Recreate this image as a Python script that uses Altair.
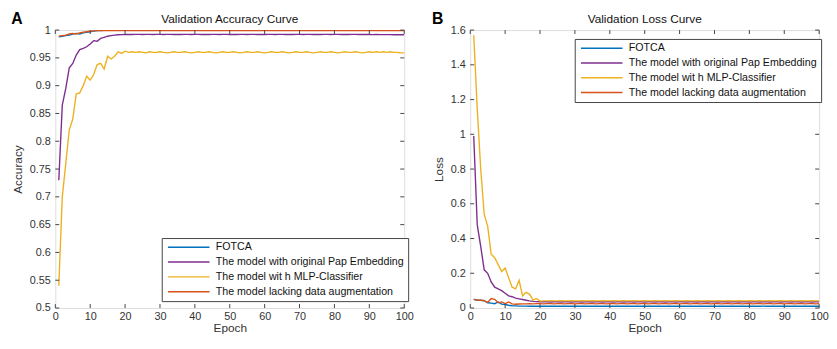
import altair as alt
import pandas as pd

epochs = list(range(1, 101))
series_names = ["FOTCA", "The model with original Pap Embedding",
                "The model wit h MLP-Classifier", "The model lacking data augmentation"]
colors = ["#0072BD", "#7E2F8E", "#EDB120", "#D95319"]

acc_fotca = [0.988, 0.989, 0.990, 0.991, 0.993, 0.994, 0.993, 0.995, 0.996, 0.997,
             0.998, 0.999, 0.999, 0.9995, 0.9995, 0.9996, 0.9996, 0.9996, 0.9997, 0.9997,
             0.9996, 0.9997, 0.9997, 0.9996, 0.9997, 0.9997, 0.9996, 0.9997, 0.9997, 0.9997,
             0.9996, 0.9997, 0.9997, 0.9996, 0.9997, 0.9997, 0.9997, 0.9996, 0.9997, 0.9997,
             0.9996, 0.9997, 0.9997, 0.9997, 0.9996, 0.9997, 0.9997, 0.9996, 0.9997, 0.9997,
             0.9996, 0.9997, 0.9997, 0.9997, 0.9996, 0.9997, 0.9997, 0.9996, 0.9997, 0.9997,
             0.9996, 0.9997, 0.9997, 0.9997, 0.9996, 0.9997, 0.9997, 0.9996, 0.9997, 0.9997,
             0.9996, 0.9997, 0.9997, 0.9997, 0.9996, 0.9997, 0.9997, 0.9996, 0.9997, 0.9997,
             0.9996, 0.9997, 0.9997, 0.9997, 0.9996, 0.9997, 0.9997, 0.9996, 0.9997, 0.9997,
             0.9996, 0.9997, 0.9997, 0.9997, 0.9996, 0.9997, 0.9997, 0.9996, 0.9997, 0.9997]
acc_pap = [0.730, 0.865, 0.895, 0.932, 0.940, 0.955, 0.965, 0.967, 0.970, 0.975,
           0.981, 0.980, 0.985, 0.987, 0.989, 0.990, 0.991, 0.9915, 0.9918, 0.9920,
           0.9922, 0.9921, 0.9923, 0.9922, 0.9921, 0.9923, 0.9922, 0.9920, 0.9922, 0.9923,
           0.9921, 0.9922, 0.9923, 0.9921, 0.9922, 0.9920, 0.9922, 0.9923, 0.9921, 0.9922,
           0.9923, 0.9921, 0.9922, 0.9920, 0.9922, 0.9923, 0.9921, 0.9922, 0.9923, 0.9921,
           0.9922, 0.9920, 0.9922, 0.9923, 0.9921, 0.9922, 0.9923, 0.9921, 0.9922, 0.9920,
           0.9922, 0.9923, 0.9921, 0.9922, 0.9923, 0.9921, 0.9922, 0.9920, 0.9922, 0.9923,
           0.9921, 0.9922, 0.9923, 0.9921, 0.9922, 0.9920, 0.9922, 0.9923, 0.9921, 0.9922,
           0.9923, 0.9921, 0.9922, 0.9920, 0.9922, 0.9923, 0.9921, 0.9922, 0.9921, 0.9920,
           0.9919, 0.9920, 0.9919, 0.9918, 0.9919, 0.9918, 0.9917, 0.9918, 0.9917, 0.9917]
acc_mlp = [0.540, 0.700, 0.760, 0.820, 0.840, 0.885, 0.887, 0.900, 0.917, 0.910,
           0.920, 0.938, 0.940, 0.930, 0.953, 0.948, 0.953, 0.961, 0.958, 0.962,
           0.960, 0.961, 0.960, 0.961, 0.960, 0.959, 0.961, 0.960, 0.960, 0.961,
           0.960, 0.959, 0.960, 0.961, 0.960, 0.960, 0.961, 0.960, 0.959, 0.960,
           0.961, 0.960, 0.960, 0.961, 0.960, 0.959, 0.960, 0.961, 0.960, 0.960,
           0.961, 0.960, 0.959, 0.960, 0.961, 0.960, 0.960, 0.961, 0.960, 0.959,
           0.960, 0.961, 0.960, 0.960, 0.961, 0.960, 0.959, 0.960, 0.961, 0.960,
           0.960, 0.961, 0.960, 0.959, 0.960, 0.961, 0.960, 0.960, 0.961, 0.960,
           0.959, 0.960, 0.961, 0.960, 0.960, 0.961, 0.960, 0.959, 0.960, 0.961,
           0.960, 0.961, 0.960, 0.961, 0.960, 0.961, 0.960, 0.960, 0.959, 0.959]
acc_lack = [0.989, 0.990, 0.991, 0.993, 0.994, 0.993, 0.995, 0.996, 0.997, 0.998,
            0.9985, 0.999, 0.999, 0.999, 0.999, 0.999, 0.999, 0.999, 0.999, 0.999,
            0.999, 0.999, 0.999, 0.999, 0.999, 0.999, 0.999, 0.999, 0.999, 0.999,
            0.999, 0.999, 0.999, 0.999, 0.999, 0.999, 0.999, 0.999, 0.999, 0.999,
            0.999, 0.999, 0.999, 0.999, 0.999, 0.999, 0.999, 0.999, 0.999, 0.999,
            0.999, 0.999, 0.999, 0.999, 0.999, 0.999, 0.999, 0.999, 0.999, 0.999,
            0.999, 0.999, 0.999, 0.999, 0.999, 0.999, 0.999, 0.999, 0.999, 0.999,
            0.999, 0.999, 0.999, 0.999, 0.999, 0.999, 0.999, 0.999, 0.999, 0.999,
            0.999, 0.999, 0.999, 0.999, 0.999, 0.999, 0.999, 0.999, 0.999, 0.999,
            0.999, 0.999, 0.999, 0.999, 0.999, 0.999, 0.999, 0.999, 0.999, 0.999]

loss_fotca = [0.050, 0.045, 0.045, 0.042, 0.030, 0.028, 0.025, 0.035, 0.022, 0.020,
              0.016, 0.013, 0.012, 0.011, 0.011, 0.011, 0.010, 0.011, 0.010, 0.010,
              0.011, 0.010, 0.010, 0.011, 0.010, 0.010, 0.011, 0.010, 0.010, 0.011,
              0.010, 0.010, 0.011, 0.010, 0.010, 0.011, 0.010, 0.010, 0.011, 0.010,
              0.010, 0.011, 0.010, 0.010, 0.011, 0.010, 0.010, 0.011, 0.010, 0.010,
              0.011, 0.010, 0.010, 0.011, 0.010, 0.010, 0.011, 0.010, 0.010, 0.011,
              0.010, 0.010, 0.011, 0.010, 0.010, 0.011, 0.010, 0.010, 0.011, 0.010,
              0.010, 0.011, 0.010, 0.010, 0.011, 0.010, 0.010, 0.011, 0.010, 0.010,
              0.011, 0.010, 0.010, 0.011, 0.010, 0.010, 0.011, 0.010, 0.010, 0.011,
              0.010, 0.010, 0.011, 0.010, 0.010, 0.011, 0.010, 0.010, 0.011, 0.010]
loss_pap = [0.990, 0.480, 0.355, 0.220, 0.200, 0.150, 0.120, 0.110, 0.100, 0.085,
            0.070, 0.065, 0.057, 0.053, 0.049, 0.045, 0.041, 0.038, 0.037, 0.036,
            0.036, 0.036, 0.035, 0.036, 0.036, 0.035, 0.036, 0.036, 0.035, 0.036,
            0.036, 0.035, 0.036, 0.036, 0.035, 0.036, 0.036, 0.035, 0.036, 0.036,
            0.035, 0.036, 0.036, 0.035, 0.036, 0.036, 0.035, 0.036, 0.036, 0.035,
            0.036, 0.036, 0.035, 0.036, 0.036, 0.035, 0.036, 0.036, 0.035, 0.036,
            0.036, 0.035, 0.036, 0.036, 0.035, 0.036, 0.036, 0.035, 0.036, 0.036,
            0.035, 0.036, 0.036, 0.035, 0.036, 0.036, 0.035, 0.036, 0.036, 0.035,
            0.036, 0.036, 0.035, 0.036, 0.036, 0.035, 0.036, 0.036, 0.035, 0.036,
            0.036, 0.035, 0.036, 0.036, 0.035, 0.036, 0.036, 0.035, 0.036, 0.036]
loss_mlp = [1.570, 1.150, 0.800, 0.540, 0.470, 0.310, 0.290, 0.250, 0.210, 0.230,
            0.175, 0.120, 0.110, 0.160, 0.070, 0.090, 0.080, 0.045, 0.055, 0.040,
            0.041, 0.041, 0.042, 0.041, 0.041, 0.042, 0.041, 0.041, 0.042, 0.041,
            0.041, 0.042, 0.041, 0.041, 0.042, 0.041, 0.041, 0.042, 0.041, 0.041,
            0.042, 0.041, 0.041, 0.042, 0.041, 0.041, 0.042, 0.041, 0.041, 0.042,
            0.041, 0.041, 0.042, 0.041, 0.041, 0.042, 0.041, 0.041, 0.042, 0.041,
            0.041, 0.042, 0.041, 0.041, 0.042, 0.041, 0.041, 0.042, 0.041, 0.041,
            0.042, 0.041, 0.041, 0.042, 0.041, 0.041, 0.042, 0.041, 0.041, 0.042,
            0.041, 0.041, 0.042, 0.041, 0.041, 0.042, 0.041, 0.041, 0.042, 0.041,
            0.041, 0.042, 0.041, 0.041, 0.042, 0.041, 0.041, 0.042, 0.041, 0.041]
loss_lack = [0.050, 0.046, 0.045, 0.043, 0.032, 0.055, 0.050, 0.030, 0.035, 0.025,
             0.035, 0.024, 0.022, 0.023, 0.024, 0.024, 0.025, 0.024, 0.025, 0.025,
             0.024, 0.025, 0.025, 0.024, 0.025, 0.025, 0.024, 0.025, 0.025, 0.024,
             0.025, 0.025, 0.024, 0.025, 0.025, 0.024, 0.025, 0.025, 0.024, 0.025,
             0.025, 0.024, 0.025, 0.025, 0.024, 0.025, 0.025, 0.024, 0.025, 0.025,
             0.024, 0.025, 0.025, 0.024, 0.025, 0.025, 0.024, 0.025, 0.025, 0.024,
             0.025, 0.025, 0.024, 0.025, 0.025, 0.024, 0.025, 0.025, 0.024, 0.025,
             0.025, 0.024, 0.025, 0.025, 0.024, 0.025, 0.025, 0.024, 0.025, 0.025,
             0.024, 0.025, 0.025, 0.024, 0.025, 0.025, 0.024, 0.025, 0.025, 0.024,
             0.025, 0.025, 0.024, 0.025, 0.025, 0.024, 0.025, 0.025, 0.024, 0.025]

x_ticks = [0, 10, 20, 30, 40, 50, 60, 70, 80, 90, 100]
acc_ticks = [0.5, 0.55, 0.6, 0.65, 0.7, 0.75, 0.8, 0.85, 0.9, 0.95, 1.0]
loss_ticks = [0, 0.2, 0.4, 0.6, 0.8, 1.0, 1.2, 1.4, 1.6]

FONT = "Liberation Sans"
TXT = "#333333"
W, H = 354, 282
TL = 4  # inner tick length


def long_df(arrs):
    rows = []
    for order, (name, vals) in enumerate(zip(series_names, arrs)):
        for e, v in zip(epochs, vals):
            rows.append({"Epoch": e, "value": v, "series": name, "ord": order})
    return pd.DataFrame(rows)


def panel(arrs, ytitle, ydomain, yticks, title, letter, letter_x, lx, ly):
    df = long_df(arrs)
    xs = alt.Scale(domain=[0, 100], nice=False, zero=False)
    ys = alt.Scale(domain=ydomain, nice=False, zero=False)
    xaxis = alt.Axis(values=x_ticks, ticks=False, domain=False, grid=False,
                     labelOverlap=False, labelFlush=False,
                     labelFont=FONT, labelFontSize=11, labelColor=TXT, labelPadding=3,
                     titleFont=FONT, titleFontSize=12, titleColor=TXT,
                     titleFontWeight="normal", titlePadding=1)
    yaxis = alt.Axis(values=yticks, ticks=False, domain=False, grid=False, format="~g",
                     labelOverlap=False, labelFlush=False,
                     labelFont=FONT, labelFontSize=11, labelColor=TXT, labelPadding=5,
                     titleFont=FONT, titleFontSize=12, titleColor=TXT,
                     titleFontWeight="normal", titlePadding=5)
    X = lambda f: alt.X(f, scale=xs, axis=xaxis, title="Epoch")
    Y = lambda f: alt.Y(f, scale=ys, axis=yaxis, title=ytitle)
    lines = alt.Chart(df).mark_line(strokeWidth=1.4, clip=True).encode(
        x=X("Epoch:Q"),
        y=Y("value:Q"),
        color=alt.Color("series:N", scale=alt.Scale(domain=series_names, range=colors),
                        sort=series_names,
                        legend=alt.Legend(orient="none", legendX=lx, legendY=ly, title=None,
                                          symbolType="M-5,0H5", symbolSize=71,
                                          symbolStrokeWidth=1.5, strokeColor="#444444",
                                          fillColor="white", padding=4, rowPadding=3,
                                          labelFont=FONT, labelFontSize=10.8, labelColor="#111111",
                                          labelLimit=400, symbolOffset=18, labelOffset=22)),
        order=alt.Order("ord:Q"),
        detail="series:N",
    )
    xt = pd.DataFrame({"t": x_ticks})
    yt = pd.DataFrame({"t": yticks})
    rule_style = dict(color="#444444", strokeWidth=1)
    xb = alt.Chart(xt).mark_rule(**rule_style).encode(
        x=X("t:Q"), y=alt.value(H), y2=alt.value(H - TL))
    xtop = alt.Chart(xt).mark_rule(**rule_style).encode(
        x=X("t:Q"), y=alt.value(0), y2=alt.value(TL))
    yl = alt.Chart(yt).mark_rule(**rule_style).encode(
        y=Y("t:Q"), x=alt.value(0), x2=alt.value(TL))
    yr = alt.Chart(yt).mark_rule(**rule_style).encode(
        y=Y("t:Q"), x=alt.value(W), x2=alt.value(W - TL))
    lab = alt.Chart(pd.DataFrame({"t": [letter]})).mark_text(
        font="Arial", fontSize=16, fontWeight="bold", color="#000000",
        align="center", baseline="middle").encode(
        text="t:N", x=alt.value(letter_x), y=alt.value(-11))
    ttl = alt.Chart(pd.DataFrame({"t": [title]})).mark_text(
        font=FONT, fontSize=12, color="#111111",
        align="center", baseline="middle").encode(
        text="t:N", x=alt.value(W / 2), y=alt.value(-11))
    return alt.layer(lines, xb, xtop, yl, yr, lab, ttl).properties(width=W, height=H)


left = panel([acc_fotca, acc_pap, acc_mlp, acc_lack], "Accuracy", [0.5, 1.0], acc_ticks,
             "Validation Accuracy Curve", "A", -39, 108, 211)
right = panel([loss_fotca, loss_pap, loss_mlp, loss_lack], "Loss", [0, 1.6], loss_ticks,
              "Validation Loss Curve", "B", -33, 106, 9)

chart = alt.hconcat(left, right, spacing=17).resolve_scale(color="independent").configure_view(
    stroke="#444444", strokeWidth=1).configure(
    background="white", padding={"left": 2, "top": 0, "right": 0, "bottom": 0})

chart.save("out.html", embed_options={"renderer": "svg", "actions": False})
